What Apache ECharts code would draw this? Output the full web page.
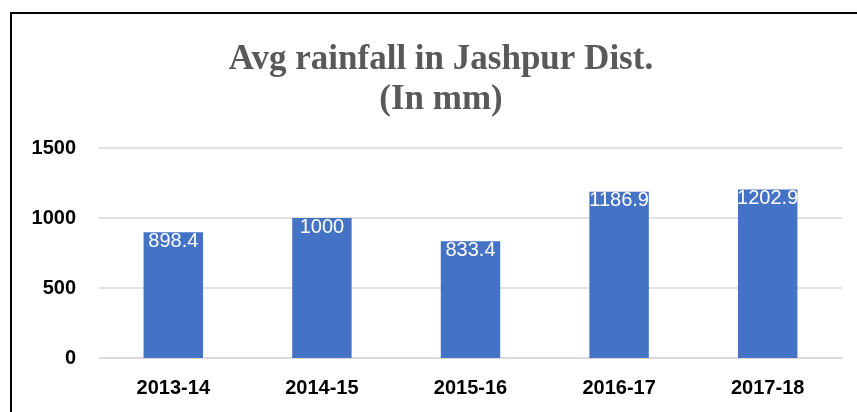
<!DOCTYPE html>
<html>
<head>
<meta charset="utf-8">
<style>
  html, body { margin: 0; padding: 0; background: #fff; }
  #chart { width: 857px; height: 412px; }
</style>
<script src="https://cdn.jsdelivr.net/npm/echarts@6/dist/echarts.min.js"></script>
</head>
<body>
<div id="chart"></div>
<script>
// rainfall per year, mm
const years = ['2013-14', '2014-15', '2015-16', '2016-17', '2017-18']
const rainfall = [898.4, 1000, 833.4, 1186.9, 1202.9]
const yTicks = [0, 500, 1000, 1500]

const chart = echarts.init(document.getElementById('chart'))

chart.setOption({
    animation: false,
    title: {
        text: 'Avg rainfall in Jashpur Dist.\n(In mm)',
        left: 436,
        top: 35,
        textAlign: 'center',
        textStyle: {
            fontFamily: 'Liberation Serif',
            fontWeight: 'bold',
            fontSize: 35,
            lineHeight: 40,
            color: '#595959'
        }
    },
    graphic: [{
        type: 'rect',
        shape: {x: 11, y: 13, width: 900, height: 450},
        style: {fill: 'none', stroke: '#000', lineWidth: 2},
        silent: true
    }],
    grid: {left: 99, right: 15, top: 148, bottom: 54, containLabel: false},
    xAxis: {
        type: 'category',
        data: years,
        axisLine: {lineStyle: {color: '#d9d9d9', width: 1.5}},
        axisTick: {show: false},
        axisLabel: {
            margin: 20,
            fontFamily: 'Liberation Sans',
            fontWeight: 'bold',
            fontSize: 20,
            color: '#000'
        }
    },
    yAxis: {
        type: 'value',
        min: yTicks[0],
        max: yTicks[yTicks.length - 1],
        interval: 500,
        axisLine: {show: false},
        axisTick: {show: false},
        splitLine: {lineStyle: {color: '#d9d9d9', width: 1.5}},
        axisLabel: {
            margin: 23,
            formatter: v => String(v),
            fontFamily: 'Liberation Sans',
            fontWeight: 'bold',
            fontSize: 20,
            color: '#000'
        }
    },
    series: [{
        type: 'bar',
        data: rainfall,
        barWidth: '40%',
        itemStyle: {color: '#4472c4'},
        label: {
            show: true,
            position: 'insideTop',
            distance: -1,
            fontFamily: 'Liberation Sans',
            fontSize: 20,
            color: '#fff'
        }
    }]
})
</script>
</body>
</html>
